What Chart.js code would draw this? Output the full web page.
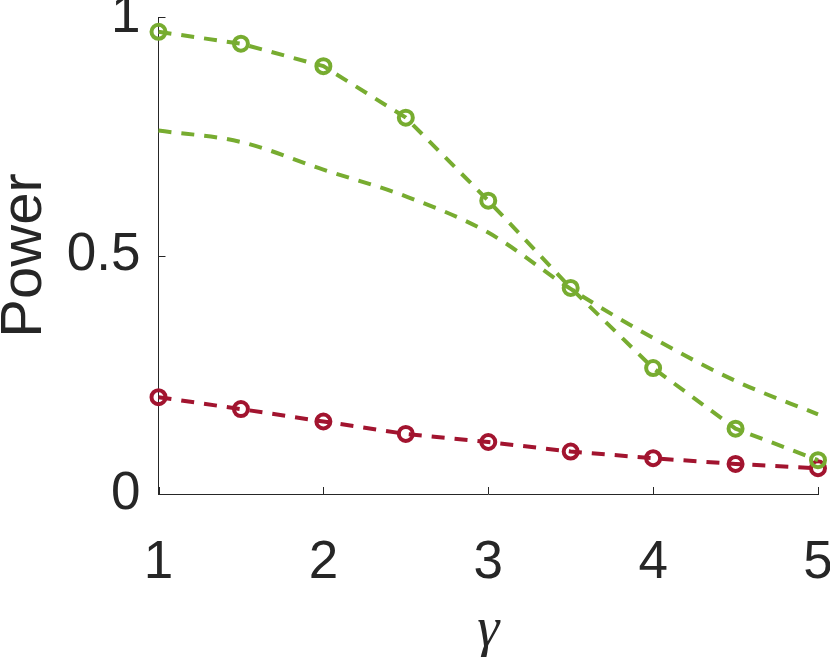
<!DOCTYPE html>
<html>
<head>
<meta charset="utf-8">
<script src="https://cdn.jsdelivr.net/npm/chart.js@4"></script>
<style>
  html, body { margin: 0; padding: 0; background: #ffffff; }
  #wrap { width: 830px; height: 657px; }
</style>
</head>
<body>
<div id="wrap"><canvas id="c" width="830" height="657"></canvas></div>
<script>
// ---- data ----
const gammaValues = [1, 1.5, 2, 2.5, 3, 3.5, 4, 4.5, 5];
const powerGreenMarked = [0.969, 0.944, 0.897, 0.789, 0.615, 0.432, 0.264, 0.137, 0.071];
const powerGreenLine = [0.762, 0.738, 0.680, 0.624, 0.548, 0.430, 0.327, 0.237, 0.167];
const powerRedMarked = [0.203, 0.178, 0.152, 0.126, 0.109, 0.089, 0.075, 0.063, 0.054];
const xTickValues = [1, 2, 3, 4, 5];
const yTickValues = [0, 0.5, 1];
const xTitle = 'γ';
const yTitle = 'Power';

const GREEN = '#77AC30';
const RED = '#A2142F';
const AXIS = '#262626';

const pts = (ys) => gammaValues.map((x, i) => ({ x: x, y: ys[i] }));

const inwardTicks = {
  id: 'inwardTicks',
  afterDraw(chart) {
    const ctx = chart.ctx;
    const xs = chart.scales.x, ys = chart.scales.y;
    const len = 7;
    ctx.save();
    ctx.strokeStyle = AXIS;
    ctx.lineWidth = 1;
    xTickValues.forEach(v => {
      const px = Math.round(xs.getPixelForValue(v)) + 0.5;
      ctx.beginPath();
      ctx.moveTo(px, ys.bottom);
      ctx.lineTo(px, ys.bottom - len);
      ctx.stroke();
    });
    yTickValues.forEach(v => {
      const py = Math.round(ys.getPixelForValue(v)) + 0.5;
      ctx.beginPath();
      ctx.moveTo(xs.left, py);
      ctx.lineTo(xs.left + len, py);
      ctx.stroke();
    });
    ctx.restore();
  }
};

const lineStyle = {
  borderWidth: 4,
  borderDash: [13, 10],
  fill: false,
  clip: false
};

new Chart(document.getElementById('c'), {
  type: 'line',
  data: {
    datasets: [
      Object.assign({
        label: 'green-marked',
        data: pts(powerGreenMarked),
        borderColor: GREEN,
        pointStyle: 'circle',
        pointRadius: 7,
        pointBorderWidth: 4,
        pointBorderColor: GREEN,
        pointBackgroundColor: 'rgba(0,0,0,0)',
        tension: 0
      }, lineStyle),
      Object.assign({
        label: 'green-line',
        data: pts(powerGreenLine),
        borderColor: GREEN,
        pointRadius: 0,
        cubicInterpolationMode: 'monotone'
      }, lineStyle),
      Object.assign({
        label: 'red-marked',
        data: pts(powerRedMarked),
        borderColor: RED,
        pointStyle: 'circle',
        pointRadius: 7,
        pointBorderWidth: 4,
        pointBorderColor: RED,
        pointBackgroundColor: 'rgba(0,0,0,0)',
        tension: 0
      }, lineStyle)
    ]
  },
  options: {
    responsive: false,
    animation: false,
    devicePixelRatio: 1,
    layout: { padding: { top: 17, right: 12, left: 0, bottom: 0 } },
    plugins: { legend: { display: false }, tooltip: { enabled: false } },
    scales: {
      x: {
        type: 'linear',
        min: 1, max: 5,
        afterBuildTicks(scale) { scale.ticks = xTickValues.map(v => ({ value: v })); },
        afterFit(scale) {
          scale.height = 163;
          scale.paddingLeft = 0; scale.paddingRight = 0;
        },
        grid: { display: false, drawTicks: false },
        border: { display: true, color: AXIS, width: 1 },
        ticks: {
          color: AXIS,
          padding: 38,
          maxRotation: 0,
          font: { family: '"Liberation Sans", Arial, sans-serif', size: 53 },
          callback: (v) => String(v)
        },
        title: {
          display: true,
          text: xTitle,
          color: AXIS,
          padding: { top: 0, bottom: -8 },
          font: { family: '"Liberation Serif", "DejaVu Serif", serif', size: 56, style: 'italic' }
        }
      },
      y: {
        min: 0, max: 1,
        afterBuildTicks(scale) { scale.ticks = yTickValues.map(v => ({ value: v })); },
        afterFit(scale) {
          scale.width = 158.5;
          scale.paddingTop = 0; scale.paddingBottom = 0;
        },
        grid: { display: false, drawTicks: false },
        border: { display: true, color: AXIS, width: 1 },
        ticks: {
          color: AXIS,
          padding: 18,
          font: { family: '"Liberation Sans", Arial, sans-serif', size: 53 },
          callback: (v) => String(v)
        },
        title: {
          display: true,
          text: yTitle,
          color: AXIS,
          padding: { top: -10, bottom: 0 },
          font: { family: '"Liberation Sans", Arial, sans-serif', size: 58 }
        }
      }
    }
  },
  plugins: [inwardTicks]
});
</script>
</body>
</html>
